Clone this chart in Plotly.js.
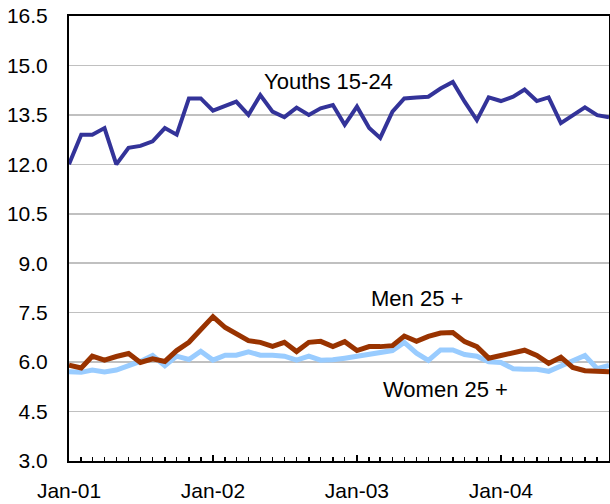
<!DOCTYPE html>
<html>
<head>
<meta charset="utf-8">
<script src="https://cdn.plot.ly/plotly-3.0.1.min.js"></script>
<style>html,body{margin:0;padding:0;background:#fff;}#chart{width:610px;height:504px;}</style>
</head>
<body>
<div id="chart"></div>
<script>
// Monthly dates Jan-2001 .. Oct-2004
const months = [
 "2001-01-01","2001-02-01","2001-03-01","2001-04-01","2001-05-01","2001-06-01","2001-07-01","2001-08-01","2001-09-01","2001-10-01","2001-11-01","2001-12-01",
 "2002-01-01","2002-02-01","2002-03-01","2002-04-01","2002-05-01","2002-06-01","2002-07-01","2002-08-01","2002-09-01","2002-10-01","2002-11-01","2002-12-01",
 "2003-01-01","2003-02-01","2003-03-01","2003-04-01","2003-05-01","2003-06-01","2003-07-01","2003-08-01","2003-09-01","2003-10-01","2003-11-01","2003-12-01",
 "2004-01-01","2004-02-01","2004-03-01","2004-04-01","2004-05-01","2004-06-01","2004-07-01","2004-08-01","2004-09-01","2004-10-01"
];
const youths = [12.0,12.9,12.9,13.1,12.0,12.5,12.56,12.7,13.1,12.9,14.0,14.0,
 13.63,13.78,13.9,13.5,14.1,13.6,13.43,13.72,13.5,13.7,13.8,13.2,
 13.75,13.1,12.8,13.6,14.0,14.03,14.05,14.3,14.5,13.9,13.34,14.03,
 13.92,14.05,14.27,13.92,14.03,13.25,13.49,13.73,13.49,13.43];
const men = [5.91,5.82,6.18,6.06,6.17,6.26,5.99,6.1,6.02,6.35,6.6,6.98,
 7.38,7.05,6.85,6.65,6.6,6.48,6.6,6.32,6.6,6.63,6.47,6.62,
 6.35,6.47,6.47,6.5,6.79,6.63,6.78,6.88,6.9,6.62,6.47,6.12,
 6.2,6.3,6.36,6.2,5.96,6.15,5.84,5.74,5.71,5.71];
const women = [5.71,5.69,5.76,5.7,5.76,5.88,6.02,6.2,5.89,6.18,6.08,6.33,
 6.06,6.21,6.21,6.31,6.21,6.21,6.18,6.06,6.18,6.06,6.07,6.12,
 6.18,6.21,6.26,6.35,6.6,6.27,6.05,6.37,6.37,6.23,6.18,6.01,
 5.99,5.8,5.78,5.78,5.72,5.88,6.02,6.2,5.8,5.9];
const yTicks = [3.0,4.5,6.0,7.5,9.0,10.5,12.0,13.5,15.0,16.5];
const yTickText = ["3.0","4.5","6.0","7.5","9.0","10.5","12.0","13.5","15.0","16.5"];
const labels = [
 {text:"Youths 15-24", x:"2002-10-22", y:14.5},
 {text:"Men 25 +", x:"2003-06-03", y:7.93},
 {text:"Women 25 +", x:"2003-08-13", y:5.16}
];

const tickFont = {family:"Liberation Sans, Arial, sans-serif", size:21, color:"#000"};
const labelFont = {family:"Liberation Sans, Arial, sans-serif", size:22, color:"#000"};
const traces = [
 {x:months, y:women, mode:"lines", line:{color:"#99CCFF", width:5}, name:"Women 25 +"},
 {x:months, y:men, mode:"lines", line:{color:"#993300", width:5}, name:"Men 25 +"},
 {x:months, y:youths, mode:"lines", line:{color:"#333399", width:4}, name:"Youths 15-24"}
];
const layout = {
 width:610, height:504,
 margin:{l:69, r:1, t:16, b:43},
 paper_bgcolor:"#fff", plot_bgcolor:"#fff",
 showlegend:false,
 font:tickFont,
 xaxis:{type:"date", range:["2001-01-01","2004-10-01"], dtick:"M12", tick0:"2001-01-01",
   tickformat:"%b-%y", ticks:"inside", ticklen:6, tickcolor:"#000", tickwidth:1.5,
   minor:{dtick:"M1", ticks:"inside", ticklen:4, tickcolor:"#000", tickwidth:1.5, showgrid:false},
   showgrid:false, showline:true, linecolor:"#000", linewidth:2, mirror:true, zeroline:false,
   tickfont:tickFont, ticklabelstandoff:10},
 yaxis:{range:[3.0,16.5], tickvals:yTicks, ticktext:yTickText, ticks:"",
   showgrid:true, gridcolor:"#c0c0c0", gridwidth:1.5,
   showline:true, linecolor:"#000", linewidth:2, mirror:true, zeroline:false,
   tickfont:tickFont, ticklabelstandoff:15},
 annotations: labels.map(a => ({text:a.text, x:a.x, y:a.y, xref:"x", yref:"y", showarrow:false, font:labelFont}))
};
Plotly.newPlot("chart", traces, layout, {displayModeBar:false, staticPlot:true});
</script>
</body>
</html>
